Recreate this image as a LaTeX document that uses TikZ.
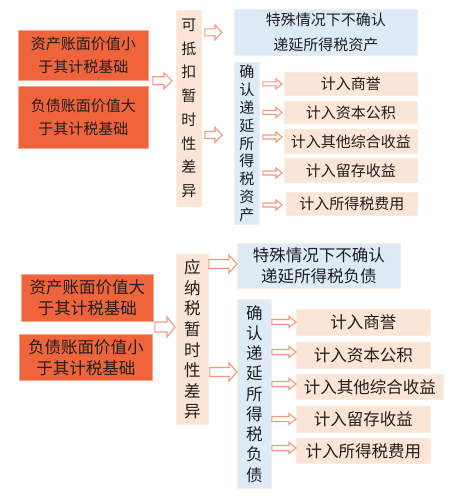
\documentclass[tikz,border=0pt]{standalone}
\usepackage{fontspec}
\setmainfont{Noto Sans CJK SC}
\usetikzlibrary{calc}
\definecolor{ofill}{HTML}{F0643C}
\definecolor{oline}{HTML}{F7A789}
\definecolor{pfill}{HTML}{FBE5D6}
\definecolor{pline}{HTML}{FCEBDF}
\definecolor{bfill}{HTML}{DDEBF7}
\definecolor{bline}{HTML}{E8F1FA}
\definecolor{aline}{HTML}{F4977A}
\definecolor{txt}{HTML}{1E1E1E}
\tikzset{
  bx/.style={rectangle, anchor=north west, inner sep=0pt, align=center, text=txt, line width=0.8pt},
  obox/.style={bx, fill=ofill, draw=oline},
  pbox/.style={bx, fill=pfill, draw=pline},
  bbox/.style={bx, fill=bfill, draw=bline},
  arr/.style={draw=aline, fill=white, line width=1.1pt, line join=miter},
  ftop/.style={font=\fontsize{15}{23}\selectfont},
  fbot/.style={font=\fontsize{16.5}{21}\selectfont},
}
% hollow block arrow: #1 start, #2 end, #3 half shaft, #4 half head, #5 head length
\newcommand\harr[5]{%
  \draw[arr] let \p1=#1, \p2=#2 in
    (\x1,{\y1+#3pt}) -- ({\x2-#5pt},{\y1+#3pt}) -- ({\x2-#5pt},{\y1+#4pt}) -- (\x2,\y1)
    -- ({\x2-#5pt},{\y1-#4pt}) -- ({\x2-#5pt},{\y1-#3pt}) -- (\x1,{\y1-#3pt}) -- cycle;}
\begin{document}
\begin{tikzpicture}[x=1pt,y=-1pt]
\useasboundingbox (0,0) rectangle (463,500);
% ---------- top ----------
\node[obox, ftop, minimum width=130pt, minimum height=50pt] (o1) at (18,30) {资产账面价值小\\于其计税基础};
\node[obox, ftop, minimum width=130pt, minimum height=62pt] (o2) at (18,86) {负债账面价值大\\于其计税基础};
\node[pbox, font=\fontsize{15}{23.7}\selectfont, minimum width=25pt, minimum height=196pt] (v1) at (176,10) {可\\抵\\扣\\暂\\时\\性\\差\\异};
\node[bbox, font=\fontsize{15}{25}\selectfont, minimum width=183pt, minimum height=46pt] (b1) at (234,9) {特殊情况下不确认\\递延所得税资产};
\node[bbox, font=\fontsize{15}{17.9}\selectfont, minimum width=25pt, minimum height=162pt] (b2) at (234,62) {确\\认\\递\\延\\所\\得\\税\\资\\产};
\node[pbox, ftop, minimum width=133pt, minimum height=23pt] (p1) at (284,72) {计入商誉};
\node[pbox, ftop, minimum width=133pt, minimum height=22pt] (p2) at (284,101) {计入资本公积};
\node[pbox, ftop, minimum width=133pt, minimum height=24pt] (p3) at (284,129) {计入其他综合收益};
\node[pbox, ftop, minimum width=133pt, minimum height=24pt] (p4) at (284,158) {计入留存收益};
\node[pbox, ftop, minimum width=131pt, minimum height=23pt] (p5) at (286,192) {计入所得税费用};
\harr{([xshift=4pt]o1.south east)}{([xshift=-4pt]v1.west |- o1.south)}{4}{8}{8}
\harr{([xshift=3pt]v1.east |- b1.west)}{([xshift=-12pt]b1.west)}{3.5}{7.5}{7}
\harr{([xshift=3pt]v1.east |- 0,135)}{([xshift=-12pt]b2.west |- 0,135)}{3.5}{7.5}{7}
\harr{([xshift=3pt]b2.east |- p1.west)}{([xshift=-2pt]p1.west)}{2}{5}{6}
\harr{([xshift=3pt]b2.east |- p2.west)}{([xshift=-2pt]p2.west)}{2}{5}{6}
\harr{([xshift=3pt]b2.east |- 0,137)}{([xshift=-2pt]p3.west |- 0,137)}{2}{5}{6}
\harr{([xshift=3pt]b2.east |- 0,173)}{([xshift=-2pt]p4.west |- 0,173)}{2}{5}{6}
\harr{([xshift=3pt]b2.east |- 0,205)}{([xshift=-4pt]p5.west |- 0,205)}{2}{5}{6}
% ---------- bottom ----------
\node[obox, fbot, minimum width=132pt, minimum height=47pt] (o3) at (21,274) {资产账面价值大\\于其计税基础};
\node[obox, fbot, minimum width=133pt, minimum height=46pt] (o4) at (19,334) {负债账面价值小\\于其计税基础};
\node[pbox, font=\fontsize{16.5}{20.6}\selectfont, minimum width=32pt, minimum height=170pt] (v2) at (176,254) {应\\纳\\税\\暂\\时\\性\\差\\异};
\node[bbox, font=\fontsize{16.5}{20.5}\selectfont, draw=pline, minimum width=163pt, minimum height=45pt] (b3) at (237,243) {特殊情况下不确认\\递延所得税负债};
\node[bbox, font=\fontsize{16.5}{20.25}\selectfont, draw=pline, minimum width=34pt, minimum height=189pt] (b4) at (237,299) {确\\认\\递\\延\\所\\得\\税\\负\\债};
\node[pbox, fbot, minimum width=134pt, minimum height=26pt] (p6) at (296,309) {计入商誉};
\node[pbox, fbot, minimum width=134pt, minimum height=26pt] (p7) at (296,342) {计入资本公积};
\node[pbox, fbot, minimum width=147pt, minimum height=25pt] (p8) at (296,374) {计入其他综合收益};
\node[pbox, fbot, minimum width=134pt, minimum height=26pt] (p9) at (296,406) {计入留存收益};
\node[pbox, fbot, minimum width=134pt, minimum height=25pt] (p10) at (296,438) {计入所得税费用};
\harr{([xshift=1pt]o3.east |- 0,327)}{([xshift=-1pt]v2.west |- 0,327)}{5}{10}{8}
\harr{([xshift=0pt]v2.east |- 0,264)}{([xshift=0pt]b3.west |- 0,264)}{4.5}{9}{8}
\harr{([xshift=1pt]v2.east |- 0,372)}{([xshift=0pt]b4.west |- 0,372)}{4.5}{9}{8}
\harr{(b4.east |- 0,322)}{(p6.west |- 0,322)}{2.5}{5.5}{7}
\harr{(b4.east |- 0,352)}{(p7.west |- 0,352)}{2.5}{5.5}{7}
\harr{(b4.east |- 0,384)}{(p8.west |- 0,384)}{2.5}{5.5}{7}
\harr{(b4.east |- 0,419)}{(p9.west |- 0,419)}{2.5}{5.5}{7}
\harr{(b4.east |- 0,448)}{(p10.west |- 0,448)}{2.5}{5.5}{7}
\end{tikzpicture}
\end{document}
